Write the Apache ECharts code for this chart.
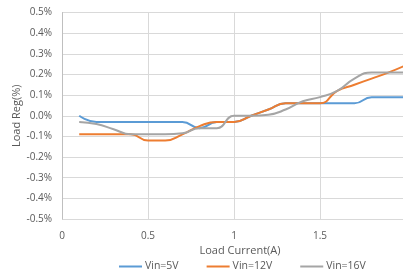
<!DOCTYPE html>
<html><head><meta charset="utf-8">
<script src="https://cdn.jsdelivr.net/npm/echarts@6/dist/echarts.min.js"></script>
<style>html,body{margin:0;padding:0;background:#fff}#c{width:403px;height:276px}</style>
</head><body><div id="c"></div>
<script>
var loadCurrent = [0.1,0.2,0.3,0.4,0.5,0.6,0.7,0.8,0.9,1.0,1.1,1.2,1.3,1.4,1.5,1.6,1.7,1.8,1.9,2.0];
var vin5  = [0.00,-0.03,-0.03,-0.03,-0.03,-0.03,-0.03,-0.06,-0.03,-0.03,0.00,0.03,0.06,0.06,0.06,0.06,0.06,0.09,0.09,0.09];
var vin12 = [-0.09,-0.09,-0.09,-0.09,-0.12,-0.12,-0.09,-0.05,-0.03,-0.03,0.00,0.03,0.06,0.06,0.06,0.12,0.15,0.18,0.21,0.245];
var vin16 = [-0.03,-0.04,-0.065,-0.09,-0.09,-0.09,-0.085,-0.06,-0.06,0.00,0.00,0.005,0.03,0.07,0.09,0.12,0.18,0.21,0.21,0.21];
var xTicks = ['0','0.5','1','1.5'];
var seriesNames = ['Vin=5V','Vin=12V','Vin=16V'];
var colors = ['#5B9BD5','#ED7D31','#A5A5A5'];

function pairs(ys){ return loadCurrent.map(function(x,i){ return [x, ys[i]]; }); }
var chart = echarts.init(document.getElementById('c'), null, {renderer:'canvas'});
var txt = '#595959';
chart.setOption({
  animation:false,
  textStyle:{fontFamily:'"Open Sans", "Liberation Sans", sans-serif'},
  grid:{left:62, top:12.5, width:344, bottom:57, outerBoundsMode:'none', containLabel:false},
  xAxis:{type:'value', min:0, max:2, interval:0.5,
    name:'Load Current(A)', nameLocation:'middle', nameGap:26, nameMoveOverlap:false,
    nameTextStyle:{color:txt, fontSize:11, padding:[0,0,0,12]},
    axisLine:{show:false}, axisTick:{show:false},
    axisLabel:{color:txt, fontSize:10, margin:12, showMaxLabel:false, formatter:function(v){ var s=String(v); return xTicks.indexOf(s)>=0?s:''; }},
    splitLine:{show:true, lineStyle:{color:'#d9d9d9', width:1}}
  },
  yAxis:{type:'value', min:-0.5, max:0.5, interval:0.1,
    name:'Load Reg(%)', nameLocation:'middle', nameGap:40, nameRotate:90, nameMoveOverlap:false,
    nameTextStyle:{color:txt, fontSize:11},
    axisLine:{show:true, onZero:false, lineStyle:{color:'#bfbfbf'}}, axisTick:{show:false},
    axisLabel:{color:txt, fontSize:10, margin:10, formatter:function(v){ return v.toFixed(1)+'%'; }},
    splitLine:{show:true, lineStyle:{color:'#d9d9d9', width:1}}
  },
  legend:{left:114, top:256, itemWidth:23, itemHeight:2, itemGap:28, icon:'rect',
    textStyle:{color:txt, fontSize:10.5, padding:[0,0,0,-2]}, data:seriesNames},
  series: [vin5, vin12, vin16].map(function(d,i){
    return {name:seriesNames[i], type:'line', data:pairs(d), smooth:0.5, showSymbol:false,
      lineStyle:{color:colors[i], width:2}, itemStyle:{color:colors[i]}};
  })
});
</script></body></html>
